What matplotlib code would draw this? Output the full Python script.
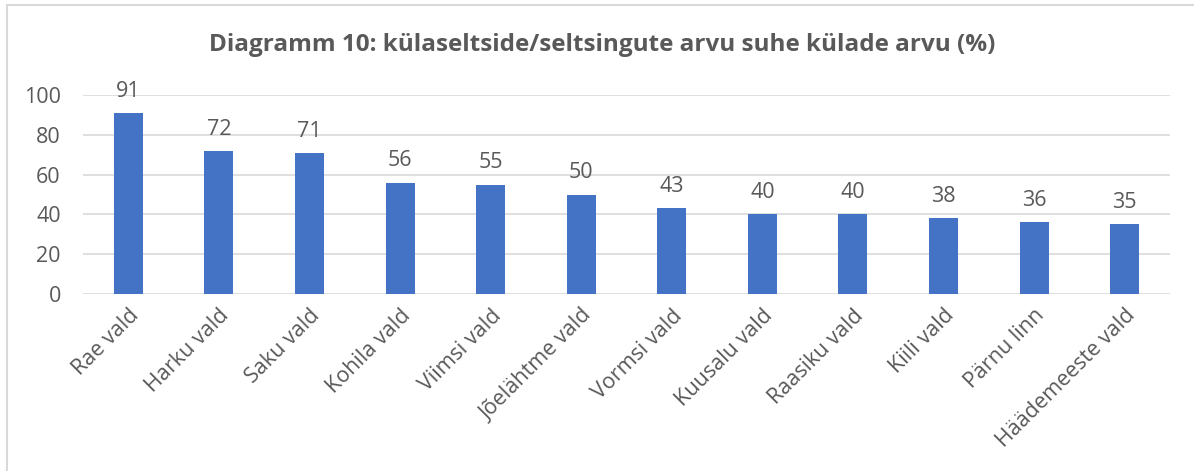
#!/usr/bin/env python3
"""Diagramm 10: külaseltside/seltsingute arvu suhe külade arvu."""
import matplotlib
matplotlib.use("Agg")
import matplotlib.pyplot as plt
from matplotlib.lines import Line2D
import numpy as np

categories = ["Rae vald", "Harku vald", "Saku vald", "Kohila vald", "Viimsi vald",
              "Jõelähtme vald", "Vormsi vald", "Kuusalu vald", "Raasiku vald",
              "Kiili vald", "Pärnu linn", "Häädemeeste vald"]
values = [91, 72, 71, 56, 55, 50, 43, 40, 40, 38, 36, 35]
yticks = [0, 20, 40, 60, 80, 100]

TEXT = "#595959"
GRID = "#d9d9d9"
BLUE = "#4472c4"
FS = 15.5

plt.rcParams["font.family"] = ["Open Sans", "DejaVu Sans"]

W, H = 1194, 471
fig = plt.figure(figsize=(W / 100, H / 100), dpi=100)
# plot area in pixels: x 83..1170, y 95 (100) .. 294 (0)
ax = fig.add_axes([83 / W, 1 - 294 / H, (1170 - 83) / W, (294 - 95) / H])

x = np.arange(len(categories))
ax.bar(x, values, width=0.32, color=BLUE, zorder=3)
for xi, v in zip(x, values):
    ax.annotate(f"{v}", (xi, v), xytext=(0, 8), textcoords="offset points",
                ha="center", va="bottom", fontsize=FS, color=TEXT)

ax.set_xlim(-0.5, len(categories) - 0.5)
ax.set_ylim(0, 100)
ax.set_yticks(yticks)
ax.set_yticklabels([str(t) for t in yticks], fontsize=FS, color=TEXT)
ax.set_xticks(x)
ax.set_xticklabels(categories, rotation=45, ha="right", rotation_mode="anchor",
                   fontsize=FS, color=TEXT)
ax.tick_params(axis="both", length=0)
ax.tick_params(axis="y", pad=16)
ax.tick_params(axis="x", pad=8)
ax.grid(axis="y", color=GRID, lw=1.2, zorder=0)
for s in ax.spines.values():
    s.set_visible(False)

fig.text(602 / W, 1 - 45 / H,
         "Diagramm 10: külaseltside/seltsingute arvu suhe külade arvu (%)",
         ha="center", va="center", fontsize=17.5, fontweight="bold", color=TEXT)

# outer chart frame (top and left edges visible)
fig.add_artist(Line2D([7 / W, 1], [1 - 5 / H, 1 - 5 / H], color=GRID, lw=1.5))
fig.add_artist(Line2D([7 / W, 7 / W], [0, 1 - 5 / H], color=GRID, lw=1.5))

fig.savefig("out.png", dpi=100)
